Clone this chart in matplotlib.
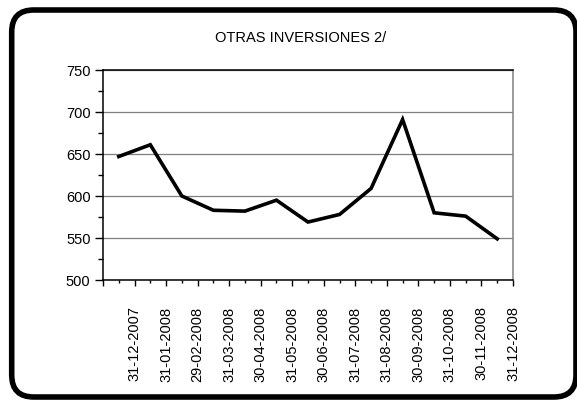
import numpy as np
import matplotlib
matplotlib.use('Agg')
from matplotlib import pyplot as plt
from matplotlib.patches import FancyBboxPatch
from matplotlib.ticker import MultipleLocator

# monthly values
fechas = ['31-12-2007', '31-01-2008', '29-02-2008', '31-03-2008', '30-04-2008',
          '31-05-2008', '30-06-2008', '31-07-2008', '31-08-2008', '30-09-2008',
          '31-10-2008', '30-11-2008', '31-12-2008']
valores = [647, 661, 600, 583, 582, 595, 569, 578, 609, 691, 580, 576, 549]

titulo = 'OTRAS INVERSIONES 2/'

plt.rcParams['font.family'] = ['Liberation Sans', 'DejaVu Sans']

fig = plt.figure(figsize=(5.77, 4.0), dpi=100)
ax = fig.add_axes([103/577, 120/400, 410/577, 210/400])

x = np.arange(len(valores))
ax.plot(x, valores, color='black', linewidth=2.6, solid_joinstyle='miter')

# y axis
ax.set_ylim(500, 750)
ax.yaxis.set_major_locator(MultipleLocator(50))
ax.yaxis.set_minor_locator(MultipleLocator(25))
ax.grid(axis='y', which='major', color='#7f7f7f', linewidth=0.9)
ax.tick_params(axis='y', which='major', length=6, width=1, labelsize=10.5, pad=3, colors='black')
ax.tick_params(axis='y', which='minor', length=3.5, width=1)

# x axis: ticks between categories, labels rotated
ax.set_xlim(-0.5, len(valores) - 0.5)
ax.set_xticks(np.arange(-0.5, len(valores), 1.0))
ax.set_xticklabels([''] + fechas, rotation=90, ha='center', va='top')
ax.set_xticks(x, minor=True)
ax.tick_params(axis='x', which='major', length=4, width=1, labelsize=10.5, pad=15)
ax.tick_params(axis='x', which='minor', length=2, width=1)

for s in ['left', 'bottom', 'top']:
    ax.spines[s].set_color('black')
    ax.spines[s].set_linewidth(1.1)
ax.spines['right'].set_color('#808080')
ax.spines['right'].set_linewidth(1.1)

fig.text(301/577, 1 - 38/400, titulo, ha='center', va='center', fontsize=10.5)

# rounded frame around the whole chart
marco = FancyBboxPatch((0.117, 0.03), 5.76 - 0.117, 3.90 - 0.03,
                       boxstyle='round,pad=0,rounding_size=0.22',
                       transform=fig.dpi_scale_trans, facecolor='none',
                       edgecolor='black', linewidth=4.0, clip_on=False)
fig.patches.append(marco)

plt.savefig('out.png', dpi=100)
